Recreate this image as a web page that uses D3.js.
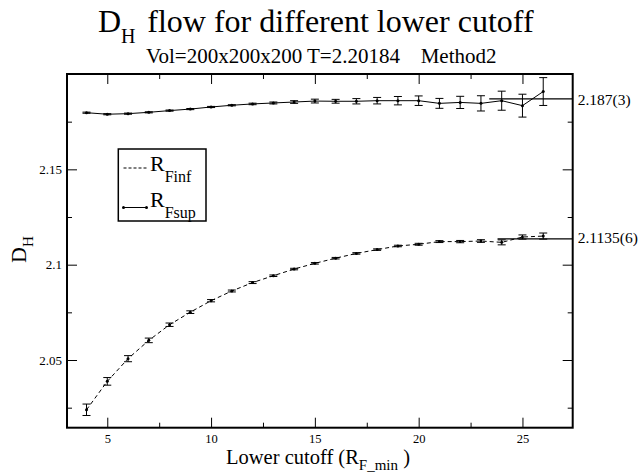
<!DOCTYPE html>
<html><head><meta charset="utf-8">
<script src="https://cdn.jsdelivr.net/npm/d3@7"></script>
<style>body{margin:0;background:#fff}svg{display:block}</style>
</head><body>
<svg id="c" width="641" height="473" font-family="Liberation Serif, DejaVu Serif, serif"></svg>
<script>
const xs = [4,5,6,7,8,9,10,11,12,13,14,15,16,17,18,19,20,21,22,23,24,25,26];
const supVals = [2.1797,2.1789,2.1792,2.1799,2.1808,2.1816,2.1827,2.1836,2.1843,2.1848,2.1853,2.1858,2.1857,2.1857,2.1860,2.1860,2.1860,2.1846,2.1851,2.1846,2.1860,2.1834,2.1908];
const supErr = [0.0003,0.0003,0.0003,0.0003,0.0003,0.0003,0.0003,0.0003,0.0004,0.0005,0.0007,0.0010,0.0010,0.0014,0.0017,0.0022,0.0025,0.0026,0.0032,0.0040,0.0050,0.0060,0.0073];
const infVals = [2.0239,2.0388,2.0507,2.0603,2.0685,2.0751,2.0811,2.0862,2.0906,2.0942,2.0977,2.1007,2.1034,2.1059,2.1079,2.1098,2.1107,2.1121,2.1121,2.1124,2.1117,2.1145,2.1150];
const infErr = [0.0030,0.0020,0.0016,0.0012,0.0009,0.0007,0.0006,0.0005,0.0005,0.0004,0.0004,0.0004,0.0004,0.0004,0.0004,0.0004,0.0005,0.0005,0.0006,0.0007,0.0013,0.0011,0.0016];
const fitVals = [2.187, 2.1135];
const fitLabels = ["2.187(3)", "2.1135(6)"];
const fitStart = [23.4, 23.8];
const xMajor = [5,10,15,20,25];
const xMinor = [7.5,12.5,17.5,22.5];
const yMajor = [2.05,2.1,2.15];
const yMinor = [2.025,2.075,2.125,2.175];
const yLabels = ["2.05","2.1","2.15"];

const FONT = "Liberation Serif, DejaVu Serif, serif";
const svg = d3.select("#c");
const L=67, R=572.7, T=74, B=427.7;
const x = d3.scaleLinear().domain([3.06,27.42]).range([L,R]);
const y = d3.scaleLinear().domain([2.0145,2.2]).range([B,T]);

function ticks(axisFn, scale, vals, size, tr, labels, fs){
  const a = axisFn(scale).tickValues(vals).tickSize(size).tickPadding(labels? 6: 0);
  if(labels) a.tickFormat((d,i)=>labels[i]); else a.tickFormat("");
  const g = svg.append("g").attr("transform",tr).call(a);
  g.attr("font-family",FONT).attr("font-size",fs||12);
  g.select(".domain").remove();
  g.selectAll(".tick line").attr("stroke","#000").attr("stroke-width",1);
  g.selectAll("text").attr("fill","#000");
  return g;
}
const gxb = ticks(d3.axisBottom, x, xMajor, -10, `translate(0,${B})`, xMajor.map(String), 12.5);
gxb.selectAll(".tick text").attr("y",15.5).attr("dy",null);
ticks(d3.axisBottom, x, xMinor, -5, `translate(0,${B})`, null);
ticks(d3.axisTop, x, xMajor, -10, `translate(0,${T})`, null);
ticks(d3.axisTop, x, xMinor, -5, `translate(0,${T})`, null);
const gyl = ticks(d3.axisLeft, y, yMajor, -10, `translate(${L},0)`, yLabels, 13);
gyl.selectAll(".tick text").attr("x",-5);
ticks(d3.axisLeft, y, yMinor, -5, `translate(${L},0)`, null);
ticks(d3.axisRight, y, yMajor, -10, `translate(${R},0)`, null);
ticks(d3.axisRight, y, yMinor, -5, `translate(${R},0)`, null);

svg.append("rect").attr("x",L).attr("y",T).attr("width",R-L).attr("height",B-T)
  .attr("fill","none").attr("stroke","#000").attr("stroke-width",2);

fitVals.forEach((v,i)=>{
  svg.append("line").attr("x1",x(fitStart[i])).attr("x2",R).attr("y1",y(v)).attr("y2",y(v))
    .attr("stroke","#000").attr("stroke-width",1.3);
  svg.append("text").attr("x",R+5).attr("y",y(v)+(i?-1:1)).attr("dy","0.32em")
    .attr("font-size",15.5).text(fitLabels[i]);
});

function series(vals, errs, dash){
  const data = xs.map((d,i)=>({x:d,v:vals[i],e:errs[i]}));
  const line = d3.line().x(d=>x(d.x)).y(d=>y(d.v));
  svg.append("path").datum(data).attr("d",line).attr("fill","none").attr("stroke","#000")
    .attr("stroke-width",1).attr("stroke-dasharray",dash||null);
  const g = svg.append("g").attr("stroke","#000").attr("stroke-width",1);
  data.forEach(d=>{
    const xp=x(d.x), y1=y(d.v-d.e), y2=y(d.v+d.e);
    g.append("line").attr("x1",xp).attr("x2",xp).attr("y1",y1).attr("y2",y2);
    g.append("line").attr("x1",xp-4).attr("x2",xp+4).attr("y1",y1).attr("y2",y1);
    g.append("line").attr("x1",xp-4).attr("x2",xp+4).attr("y1",y2).attr("y2",y2);
  });
  svg.append("g").selectAll("circle").data(data).join("circle")
    .attr("cx",d=>x(d.x)).attr("cy",d=>y(d.v)).attr("r",1.5).attr("fill","#000");
}
series(infVals, infErr, "4,3");
series(supVals, supErr, null);

// legend
svg.append("rect").attr("x",118.3).attr("y",149).attr("width",87.7).attr("height",72)
  .attr("fill","#fff").attr("stroke","#000").attr("stroke-width",1.5);
svg.append("line").attr("x1",123.5).attr("x2",146.5).attr("y1",168).attr("y2",168)
  .attr("stroke","#000").attr("stroke-dasharray","3,2");
svg.append("line").attr("x1",123.5).attr("x2",146.5).attr("y1",207.5).attr("y2",207.5).attr("stroke","#000");
svg.append("circle").attr("cx",123.5).attr("cy",207.5).attr("r",1.5);
svg.append("circle").attr("cx",146.5).attr("cy",207.5).attr("r",1.5);
const l1 = svg.append("text").attr("x",150).attr("y",171).attr("font-size",22);
l1.append("tspan").text("R");
l1.append("tspan").attr("dy",11).attr("font-size",16).text("Finf");
const l2 = svg.append("text").attr("x",150).attr("y",207.3).attr("font-size",22);
l2.append("tspan").text("R");
l2.append("tspan").attr("dy",10.5).attr("font-size",16).text("Fsup");

// title
const t = svg.append("text").attr("x",98).attr("y",31.7).attr("font-size",32);
t.append("tspan").text("D");
t.append("tspan").attr("dy",11.6).attr("font-size",20).text("H");
t.append("tspan").attr("x",147.3).attr("dy",-11.6).text("flow for different lower cutoff");
svg.append("text").attr("x",146).attr("y",63.3).attr("font-size",21)
  .text("Vol=200x200x200 T=2.20184");
svg.append("text").attr("x",420.7).attr("y",63.3).attr("font-size",21).text("Method2");

// x label
const xl = svg.append("text").attr("x",226).attr("y",463.5).attr("font-size",20.5);
xl.append("tspan").text("Lower cutoff (R");
xl.append("tspan").attr("dy",6).attr("font-size",15).text("F_min");
xl.append("tspan").attr("dy",-6).text(" )");

// y label
const yl = svg.append("text").attr("transform","translate(25.5,263) rotate(-90)").attr("font-size",22);
yl.append("tspan").text("D");
yl.append("tspan").attr("dy",7.5).attr("font-size",15).text("H");
</script>
</body></html>
